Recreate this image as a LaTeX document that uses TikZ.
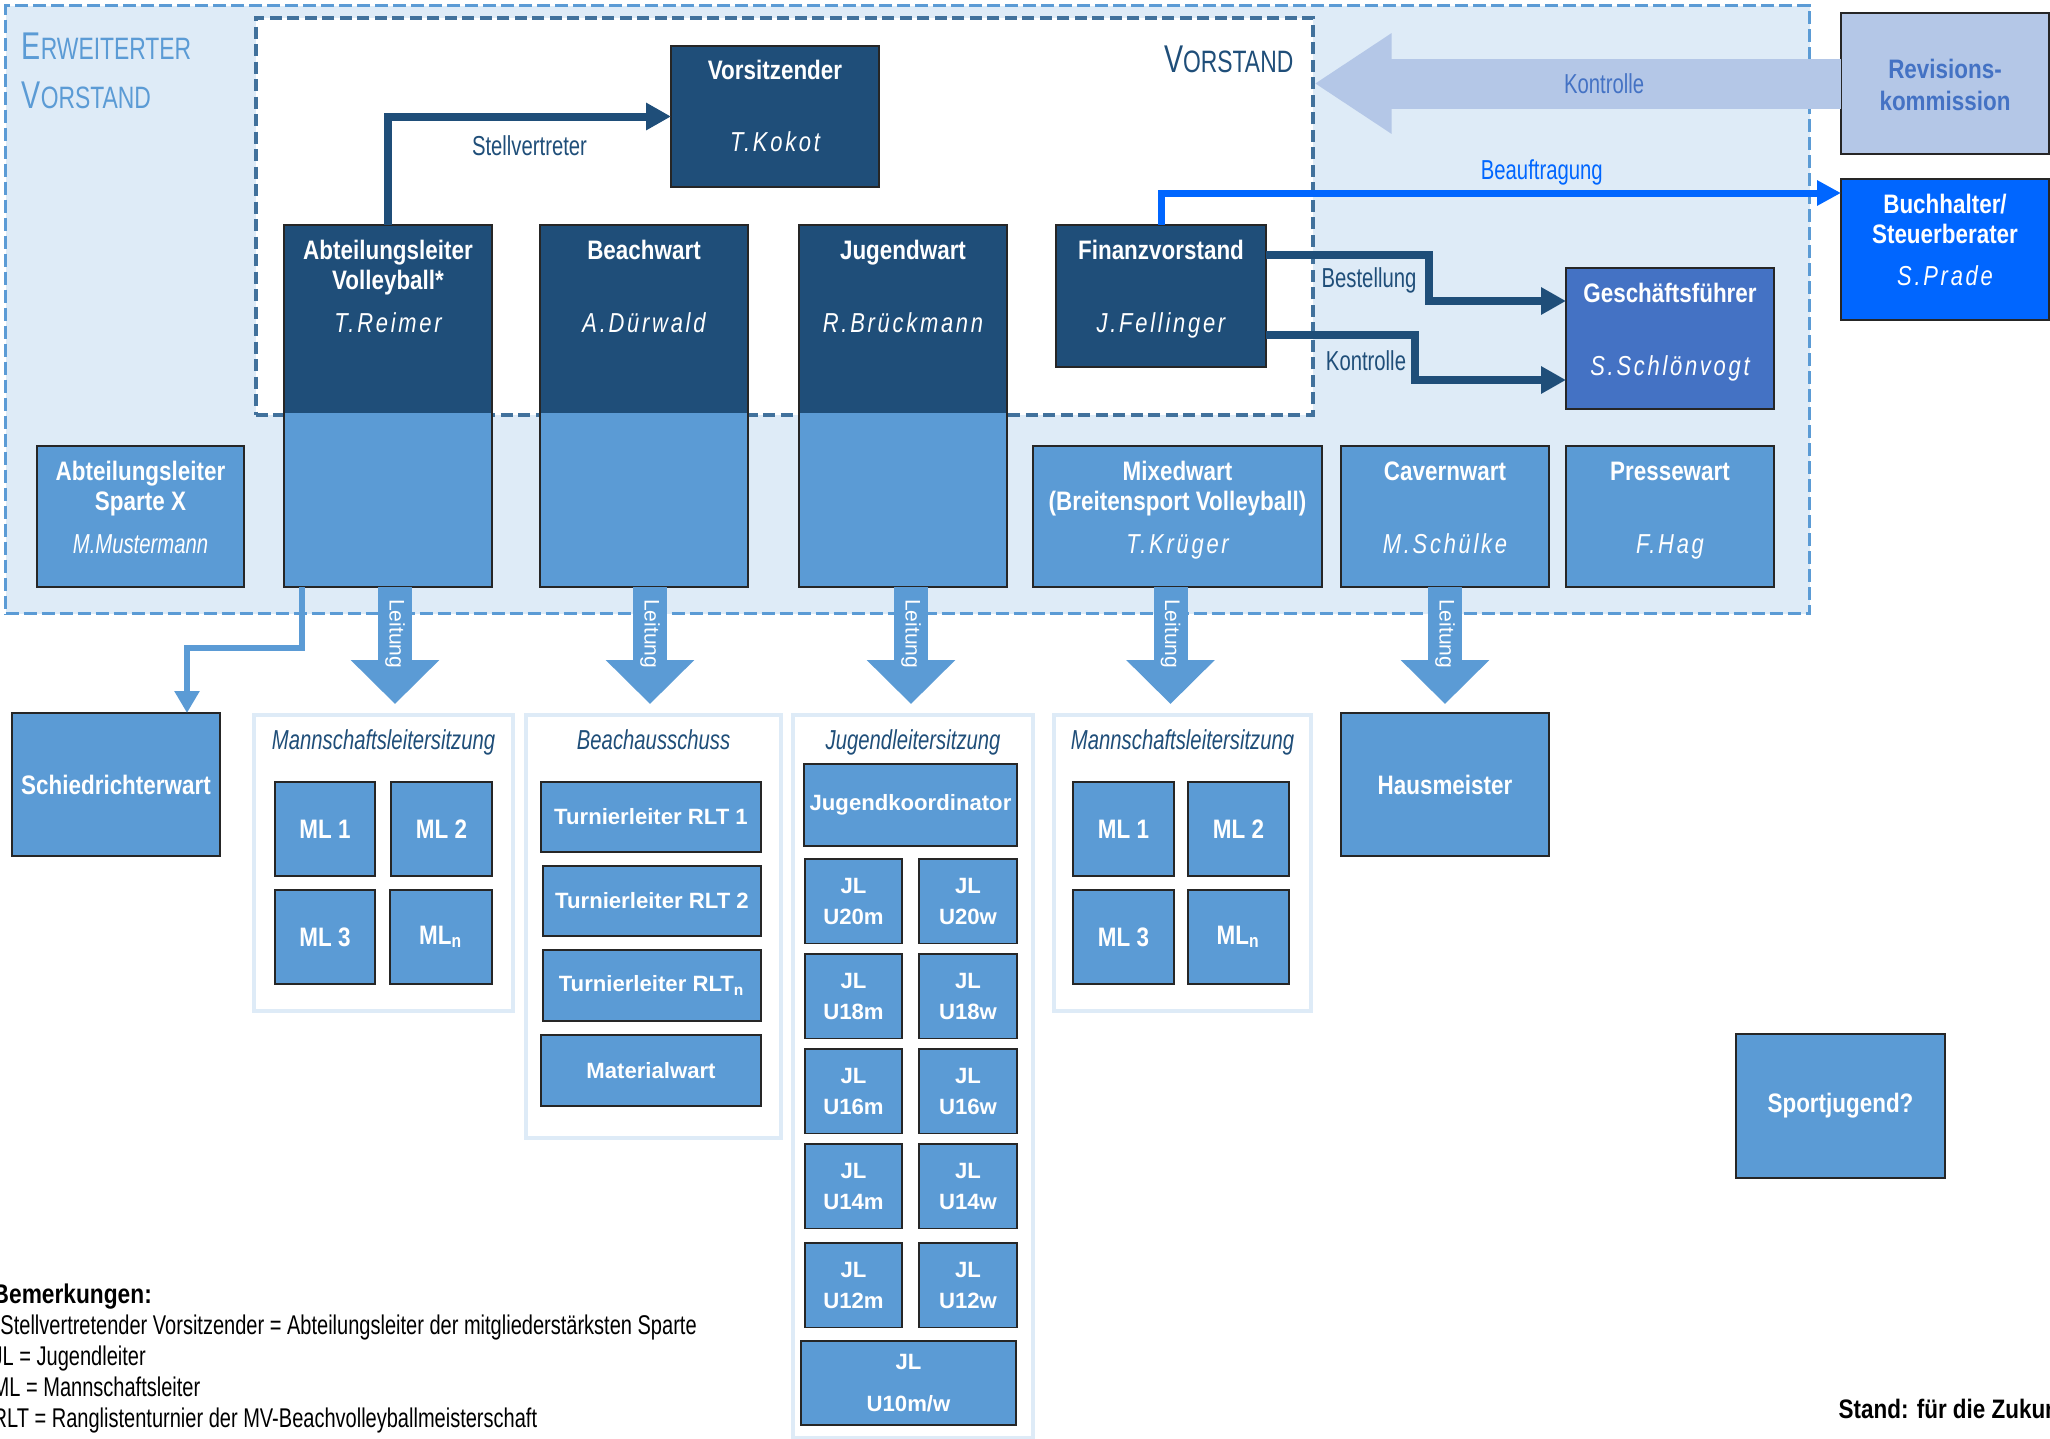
\documentclass[tikz,border=0pt]{standalone}
\usepackage{fontspec}
\setmainfont{Liberation Sans}
\newfontfamily\cnbold{Liberation Sans}[FakeStretch=0.84]
\newfontfamily\cnreg{Liberation Sans}[FakeStretch=0.74]
\newfontfamily\namefont{Liberation Sans}[FakeStretch=0.8,LetterSpace=10]
\newfontfamily\wdbold{Liberation Sans}
\newfontfamily\plainsans{Liberation Sans}
\usetikzlibrary{arrows.meta}

\definecolor{vdark}{RGB}{31,78,121}
\definecolor{vmid}{RGB}{91,155,213}
\definecolor{vlight}{RGB}{222,235,247}
\definecolor{vframe}{RGB}{65,113,156}
\definecolor{vgf}{RGB}{68,114,196}
\definecolor{vrev}{RGB}{180,199,231}
\definecolor{vbright}{RGB}{0,102,255}

\newcommand\boxfont{\cnbold\bfseries\fontsize{7.6}{8.5}\selectfont}
\newcommand\widefont{\wdbold\bfseries\fontsize{6.3}{8.9}\selectfont}
\newcommand\sctitle[2]{{\fontsize{11}{12}\selectfont #1}{\fontsize{8.8}{12}\selectfont #2}}

\tikzset{
  box/.style={draw=black!85, line width=0.5pt, anchor=north west, inner sep=0pt, outer sep=0pt},
  dkbox/.style={box, fill=vdark},
  mdbox/.style={box, fill=vmid, text=white, font=\boxfont},
  splitbox/.style={box, fill=vmid,
    path picture={\fill[vdark] (path picture bounding box.north west) rectangle ([yshift=-18.8mm]path picture bounding box.north east);}},
  wide/.style={font=\widefont, align=center},
  grp/.style={draw=vlight, line width=1.2pt, fill=white, anchor=north west, inner sep=0pt},
  erwframe/.style={draw=vmid, fill=vlight, line width=0.9pt, dash pattern=on 1.3mm off 0.5mm, anchor=north west, inner sep=0pt},
  vstframe/.style={draw=vframe, fill=white, line width=1pt, dash pattern=on 1.2mm off 0.55mm, anchor=north west, inner sep=0pt},
  frametitle/.style={font=\cnreg, inner sep=0pt},
  ttl/.style={text=white, font=\boxfont, anchor=base, inner sep=0pt, align=center},
  who/.style={text=white, font=\namefont\itshape\fontsize{7.8}{9}\selectfont, anchor=base, inner sep=0pt},
  grptitle/.style={text=vdark, font=\cnreg\itshape\fontsize{7.8}{9}\selectfont, anchor=base, inner sep=0pt},
  lbl/.style={font=\cnreg\fontsize{7.8}{9}\selectfont, inner sep=0pt},
  dkline/.style={draw=vdark, line width=0.8mm, -{Triangle[length=2.5mm,width=2.6mm]}},
  blline/.style={draw=vbright, line width=0.7mm, -{Triangle[length=2.4mm,width=2.4mm]}},
  mdline/.style={draw=vmid, line width=0.65mm, -{Triangle[length=2.2mm,width=2.4mm]}},
  leit/.style={draw=vmid, line width=3.4mm, -{Triangle[length=4.4mm,width=8.6mm]}, shorten >=0.9mm},
  leittxt/.style={text=white, font=\plainsans\fontsize{6}{7}\selectfont, rotate=-90, inner sep=0pt},
  kontr/.style={draw=vrev, line width=5mm, -{Triangle[length=7.7mm,width=9.5mm]}}
}

\begin{document}
\begin{tikzpicture}[x=0.1mm,y=-0.1mm]
  \useasboundingbox (0,0) rectangle (2050,1439);

  % Frames
  \node[erwframe, minimum width=180.4mm, minimum height=60.8mm] (erw) at (4,4) {};
  \node[vstframe, minimum width=105.7mm, minimum height=39.7mm] (vorstand) at (254,16) {};
  \node[frametitle, text=vmid, anchor=base west] (erwT1) at (21,60) {\sctitle{E}{RWEITERTER}};
  \node[frametitle, text=vmid, anchor=base west] (erwT2) at (21,108) {\sctitle{V}{ORSTAND}};
  \node[frametitle, text=vdark, anchor=base east] (vstT) at (1294,73) {\sctitle{V}{ORSTAND}};

  % Revision, Buchhalter
  \node[box, fill=vrev, minimum width=20.8mm, minimum height=14.1mm] (rev) at (1841,13) {};
  \node[ttl, text=vgf] (revT) at ([yshift=-9.75mm]rev.north) {Revisions-\\[0.6pt]kommission};
  \node[box, fill=vbright, minimum width=20.8mm, minimum height=14.1mm] (buch) at (1841,179) {};
  \node[ttl] (buchT) at ([yshift=-6.45mm]buch.north) {Buchhalter/\\Steuerberater};
  \node[who] (buchN) at ([yshift=-10.6mm]buch.north) {S.Prade};

  % Kontrolle
  \draw[kontr] (rev.west) -- (rev.west -| vorstand.east)
    node[lbl, text=vgf, pos=0.45] (kontL) {Kontrolle};

  % Vorstand
  \node[dkbox, minimum width=20.8mm, minimum height=14.1mm] (vors) at (671,46) {};
  \node[ttl] (vorsT) at ([yshift=-3.3mm]vors.north) {Vorsitzender};
  \node[who] (vorsN) at ([yshift=-10.6mm]vors.north) {T.Kokot};

  \node[splitbox, minimum width=20.8mm, minimum height=36.2mm] (abt) at (284,225) {};
  \node[ttl] (abtT) at ([yshift=-6.45mm]abt.north) {Abteilungsleiter\\Volleyball*};
  \node[who] (abtN) at ([yshift=-10.7mm]abt.north) {T.Reimer};

  \node[splitbox, minimum width=20.8mm, minimum height=36.2mm] (beach) at (540,225) {};
  \node[ttl] (beachT) at ([yshift=-3.45mm]beach.north) {Beachwart};
  \node[who] (beachN) at ([yshift=-10.7mm]beach.north) {A.Dürwald};

  \node[splitbox, minimum width=20.8mm, minimum height=36.2mm] (jug) at (799,225) {};
  \node[ttl] (jugT) at ([yshift=-3.45mm]jug.north) {Jugendwart};
  \node[who] (jugN) at ([yshift=-10.7mm]jug.north) {R.Brückmann};

  \node[dkbox, minimum width=21mm, minimum height=14.2mm] (fin) at (1056,225) {};
  \node[ttl] (finT) at ([yshift=-3.45mm]fin.north) {Finanzvorstand};
  \node[who] (finN) at ([yshift=-10.7mm]fin.north) {J.Fellinger};

  \node[box, fill=vgf, minimum width=20.8mm, minimum height=14.1mm] (gf) at (1566,268) {};
  \node[ttl] (gfT) at ([yshift=-3.45mm]gf.north) {Geschäftsführer};
  \node[who] (gfN) at ([yshift=-10.7mm]gf.north) {S.Schlönvogt};

  % erweiterter Vorstand
  \node[mdbox, minimum width=20.7mm, minimum height=14.1mm] (spx) at (37,446) {};
  \node[ttl] (spxT) at ([yshift=-6.45mm]spx.north) {Abteilungsleiter\\Sparte X};
  \node[ttl, font=\cnreg\itshape\fontsize{7.8}{9}\selectfont] (spxN) at ([yshift=-10.7mm]spx.north) {M.Mustermann};

  \node[mdbox, minimum width=28.9mm, minimum height=14.1mm] (mixed) at (1033,446) {};
  \node[ttl] (mixedT) at ([yshift=-6.45mm]mixed.north) {Mixedwart\\(Breitensport Volleyball)};
  \node[who] (mixedN) at ([yshift=-10.7mm]mixed.north) {T.Krüger};

  \node[mdbox, minimum width=20.8mm, minimum height=14.1mm] (cav) at (1341,446) {};
  \node[ttl] (cavT) at ([yshift=-3.45mm]cav.north) {Cavernwart};
  \node[who] (cavN) at ([yshift=-10.7mm]cav.north) {M.Schülke};

  \node[mdbox, minimum width=20.8mm, minimum height=14.1mm] (presse) at (1566,446) {};
  \node[ttl] (presseT) at ([yshift=-3.45mm]presse.north) {Pressewart};
  \node[who] (presseN) at ([yshift=-10.7mm]presse.north) {F.Hag};

  % Connections in the Vorstand
  \draw[dkline] (abt.north) |- (vors.west)
    node[lbl, text=vdark, pos=0.75, below=1.5mm] (stvL) {Stellvertreter};
  \draw[blline] (fin.north) |- ([yshift=-1.4mm]buch.north west)
    node[lbl, text=vbright, pos=0.78, above=0.4mm] (beaL) {Beauftragung};
  \draw[dkline] ([yshift=-3mm]fin.north east) -- ++(163,0) |- ([yshift=-3.3mm]gf.north west);
  \draw[dkline] ([yshift=3.2mm]fin.south east) -- ++(149,0) |- ([yshift=2.9mm]gf.south west);
  \node[lbl, text=vdark] (bestL) at (1369,280) {Bestellung};
  \node[lbl, text=vdark] (kontL2) at (1366,361) {Kontrolle};

  % Lower level
  \node[mdbox, minimum width=20.8mm, minimum height=14.3mm] (schied) at (12,713) {Schiedrichterwart};
  \node[mdbox, minimum width=20.8mm, minimum height=14.3mm] (haus) at (1341,713) {Hausmeister};
  \node[mdbox, minimum width=20.9mm, minimum height=14.4mm] (sportj) at (1736,1034) {Sportjugend?};

  \node[grp, minimum width=25.9mm, minimum height=29.6mm] (ms1) at (252,713) {};
  \node[grptitle] (ms1T) at ([yshift=-3.65mm]ms1.north) {Mannschaftsleitersitzung};
  \node[mdbox, minimum width=10mm, minimum height=9.4mm] (ms1a) at (275,782) {ML 1};
  \node[mdbox, minimum width=10.1mm, minimum height=9.4mm] (ms1b) at (391,782) {ML 2};
  \node[mdbox, minimum width=10mm, minimum height=9.4mm] (ms1c) at (275,890) {ML 3};
  \node[mdbox, minimum width=10.2mm, minimum height=9.4mm] (ms1n) at (390,890) {ML\textsubscript{n}};

  \node[grp, minimum width=25.5mm, minimum height=42.3mm] (beachg) at (524,713) {};
  \node[grptitle] (beachgT) at ([yshift=-3.65mm]beachg.north) {Beachausschuss};
  \node[mdbox, wide, minimum width=22mm, minimum height=7mm] (rlt1) at (541,782) {Turnierleiter RLT 1};
  \node[mdbox, wide, minimum width=21.8mm, minimum height=7mm] (rlt2) at (543,866) {Turnierleiter RLT 2};
  \node[mdbox, wide, minimum width=21.8mm, minimum height=7.1mm] (rltn) at (543,950) {Turnierleiter RLT\textsubscript{n}};
  \node[mdbox, wide, minimum width=22mm, minimum height=7.1mm] (matw) at (541,1035) {Materialwart};

  \node[grp, minimum width=24mm, minimum height=72.3mm] (jugg) at (791,713) {};
  \node[grptitle] (juggT) at ([yshift=-3.65mm]jugg.north) {Jugendleitersitzung};
  \node[mdbox, wide, minimum width=21.3mm, minimum height=8.2mm] (jkoord) at (804,764) {Jugendkoordinator};
  \foreach \age/\ypos in {20/859, 18/954, 16/1049, 14/1144, 12/1243} {
    \node[mdbox, wide, minimum width=9.7mm, minimum height=8.45mm] (jl\age m) at (805,\ypos) {JL\\U\age m};
    \node[mdbox, wide, minimum width=9.8mm, minimum height=8.45mm] (jl\age w) at (919,\ypos) {JL\\U\age w};
  }
  \node[mdbox, wide, minimum width=21.5mm, minimum height=8.4mm] (jl10) at (801,1341) {JL\\[3.1pt]U10m/w};

  \node[grp, minimum width=25.7mm, minimum height=29.6mm] (ms2) at (1052,713) {};
  \node[grptitle] (ms2T) at ([yshift=-3.65mm]ms2.north) {Mannschaftsleitersitzung};
  \node[mdbox, minimum width=10.1mm, minimum height=9.4mm] (ms2a) at (1073,782) {ML 1};
  \node[mdbox, minimum width=10.1mm, minimum height=9.4mm] (ms2b) at (1188,782) {ML 2};
  \node[mdbox, minimum width=10.1mm, minimum height=9.4mm] (ms2c) at (1073,890) {ML 3};
  \node[mdbox, minimum width=10.1mm, minimum height=9.4mm] (ms2n) at (1188,890) {ML\textsubscript{n}};

  % Leitung
  \coordinate (la) at ([xshift=0.7mm]abt.south);
  \draw[leit] (la) -- (la |- ms1.north) node[leittxt, pos=0.37] (leitA) {Leitung};
  \coordinate (lb) at ([xshift=0.6mm]beach.south);
  \draw[leit] (lb) -- (lb |- beachg.north) node[leittxt, pos=0.37] (leitB) {Leitung};
  \coordinate (lc) at ([xshift=0.8mm]jug.south);
  \draw[leit] (lc) -- (lc |- jugg.north) node[leittxt, pos=0.37] (leitC) {Leitung};
  \coordinate (ld) at ([xshift=-0.7mm]mixed.south);
  \draw[leit] (ld) -- (ld |- ms2.north) node[leittxt, pos=0.37] (leitD) {Leitung};
  \draw[leit] (cav.south) -- (haus.north) node[leittxt, pos=0.37] (leitE) {Leitung};
  \draw[mdline] ([xshift=1.8mm]abt.south west) -- ++(0,61) -| ([xshift=7.1mm]schied.north);

  % Notes
  \node[anchor=north west, align=left, inner sep=0pt, font=\cnreg\fontsize{7.7}{8.8}\selectfont] (bem) at (-8,1283)
    {{\cnbold\bfseries Bemerkungen:}\\{*}Stellvertretender Vorsitzender = Abteilungsleiter der mitgliederstärksten Sparte\\JL = Jugendleiter\\ML = Mannschaftsleiter\\RLT = Ranglistenturnier der MV-Beachvolleyballmeisterschaft};
  \node[anchor=base west, inner sep=0pt, font=\cnbold\bfseries\fontsize{7.6}{9}\selectfont] (stand) at (1838,1418) {Stand: für die Zukunft};
\end{tikzpicture}
\end{document}
